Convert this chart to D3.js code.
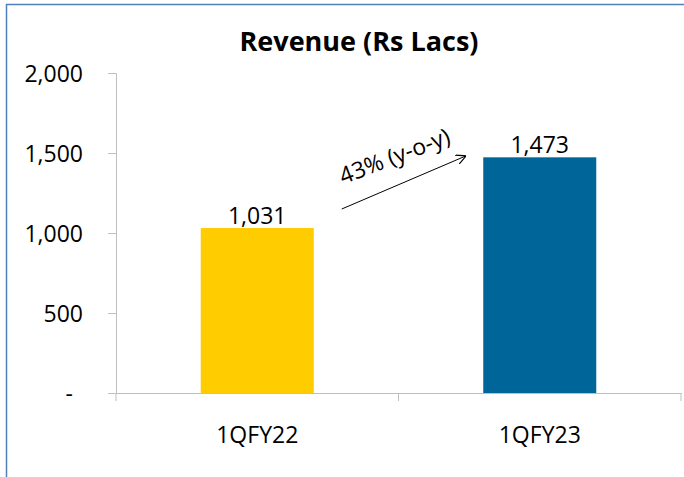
<!DOCTYPE html>
<html>
<head>
<meta charset="utf-8">
<script src="https://cdn.jsdelivr.net/npm/d3@7"></script>
<style>
  body { margin: 0; background: #fff; }
  text { font-family: "Open Sans", "Noto Sans", sans-serif; fill: #000; }
</style>
</head>
<body>
<div id="chart"></div>
<script>
const categories = ["1QFY22", "1QFY23"];
const revenue = [1031, 1473];
const barColors = ["#FFCC00", "#006699"];
const yTicks = [0, 500, 1000, 1500, 2000];
const growthLabel = "43% (y-o-y)";

const W = 684, H = 477;
const margin = { top: 73, right: 3, bottom: 84, left: 116 };
const width = W - margin.left - margin.right;
const height = H - margin.top - margin.bottom;

const root = d3.select("#chart").append("svg")
    .attr("width", W)
    .attr("height", H);

// chart frame
root.append("rect")
    .attr("x", 6.5).attr("y", 4.5)
    .attr("width", W).attr("height", H)
    .attr("fill", "none")
    .attr("stroke", "#4F81BD")
    .attr("stroke-width", 1.5);

root.append("text")
    .attr("x", 359)
    .attr("y", 51)
    .attr("text-anchor", "middle")
    .style("font-size", "27px")
    .style("font-weight", "bold")
    .text("Revenue (Rs Lacs)");

const svg = root.append("g")
    .attr("transform", `translate(${margin.left},${margin.top})`);

const x = d3.scaleBand()
    .domain(categories)
    .range([0, width])
    .paddingInner(0.6)
    .paddingOuter(0.3);

const y = d3.scaleLinear()
    .domain([0, 2000])
    .range([height, 0]);

const fmt = d => d === 0 ? "-" : d3.format(",")(d);

// y axis
const yAxis = svg.append("g")
    .call(d3.axisLeft(y).tickValues(yTicks).tickFormat(fmt).tickSize(8).tickPadding(25));
yAxis.select(".domain").attr("stroke", "#BFBFBF");
yAxis.selectAll(".tick line").attr("stroke", "#BFBFBF");
yAxis.selectAll("text")
    .style("font-size", "23px")
    .attr("dy", "0.36em");
yAxis.selectAll(".tick").filter(d => d === 0).select("text")
    .attr("x", -43);

// x axis
const xAxis = svg.append("g")
    .attr("transform", `translate(0,${height})`)
    .call(d3.axisBottom(x).tickSize(0).tickPadding(34));
xAxis.select(".domain").attr("stroke", "#BFBFBF");
xAxis.selectAll("text").style("font-size", "23px");

// category boundary ticks
const step = width / categories.length;
svg.append("g")
    .selectAll("line")
    .data(d3.range(categories.length + 1))
    .join("line")
    .attr("x1", i => i * step).attr("x2", i => i * step)
    .attr("y1", height).attr("y2", height + 8)
    .attr("stroke", "#BFBFBF");

// bars
svg.selectAll("rect.bar")
    .data(categories)
    .join("rect")
    .attr("class", "bar")
    .attr("x", d => x(d))
    .attr("width", x.bandwidth())
    .attr("y", (d, i) => y(revenue[i]))
    .attr("height", (d, i) => height - y(revenue[i]))
    .attr("fill", (d, i) => barColors[i]);

svg.selectAll("text.val")
    .data(categories)
    .join("text")
    .attr("class", "val")
    .attr("x", d => x(d) + x.bandwidth() / 2)
    .attr("y", (d, i) => y(revenue[i]) - 4)
    .attr("text-anchor", "middle")
    .style("font-size", "23px")
    .text((d, i) => d3.format(",")(revenue[i]));

// growth arrow
root.append("defs").append("marker")
    .attr("id", "arrow")
    .attr("viewBox", "0 0 10 10")
    .attr("refX", 9).attr("refY", 5)
    .attr("markerWidth", 10).attr("markerHeight", 10)
    .attr("markerUnits", "userSpaceOnUse")
    .attr("orient", "auto")
    .append("path")
    .attr("d", "M0,0 L10,5 L0,10")
    .attr("fill", "none")
    .attr("stroke", "#000")
    .attr("stroke-width", 1.2);

const ax1 = x(categories[0]) + x.bandwidth() + 28, ay1 = y(1150);
const ax2 = x(categories[1]) - 18, ay2 = y(1480);
svg.append("line")
    .attr("x1", ax1).attr("y1", ay1)
    .attr("x2", ax2).attr("y2", ay2)
    .attr("stroke", "#000")
    .attr("stroke-width", 1)
    .attr("marker-end", "url(#arrow)");

svg.append("text")
    .attr("transform", `translate(${(ax1 + ax2) / 2 - 6},${(ay1 + ay2) / 2 - 19}) rotate(-21)`)
    .attr("text-anchor", "middle")
    .style("font-size", "23px")
    .text(growthLabel);
</script>
</body>
</html>
